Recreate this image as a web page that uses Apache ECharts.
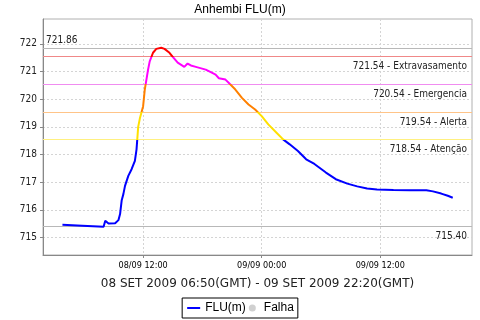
<!DOCTYPE html>
<html>
<head>
<meta charset="utf-8">
<script src="https://cdn.jsdelivr.net/npm/echarts@6/dist/echarts.min.js"></script>
<style>
html,body{margin:0;padding:0;background:#fff;}
#chart{width:480px;height:320px;}
</style>
</head>
<body>
<div id="chart"></div>
<script>
// leituras (hora local)
var times = [
  '2009-09-08 03:50','2009-09-08 04:00','2009-09-08 05:50','2009-09-08 06:00','2009-09-08 08:00',
  '2009-09-08 08:10','2009-09-08 08:30','2009-09-08 09:10','2009-09-08 09:30','2009-09-08 09:40',
  '2009-09-08 09:50','2009-09-08 10:00','2009-09-08 10:10','2009-09-08 10:30','2009-09-08 10:50',
  '2009-09-08 11:10','2009-09-08 11:20','2009-09-08 11:30','2009-09-08 11:40','2009-09-08 12:00',
  '2009-09-08 12:10','2009-09-08 12:30','2009-09-08 12:40','2009-09-08 13:00','2009-09-08 13:20',
  '2009-09-08 13:50','2009-09-08 14:10','2009-09-08 14:40','2009-09-08 15:00','2009-09-08 15:30',
  '2009-09-08 16:10','2009-09-08 16:30','2009-09-08 16:50','2009-09-08 17:20','2009-09-08 18:20',
  '2009-09-08 19:00','2009-09-08 19:20','2009-09-08 19:40','2009-09-08 19:50','2009-09-08 20:20',
  '2009-09-08 20:50','2009-09-08 21:20','2009-09-08 22:00','2009-09-08 22:40','2009-09-08 23:20',
  '2009-09-09 00:00','2009-09-09 00:40','2009-09-09 01:30','2009-09-09 02:10','2009-09-09 02:50',
  '2009-09-09 03:40','2009-09-09 04:30','2009-09-09 05:20','2009-09-09 06:30','2009-09-09 07:30',
  '2009-09-09 08:40','2009-09-09 09:40','2009-09-09 10:40','2009-09-09 11:40','2009-09-09 13:20',
  '2009-09-09 15:00','2009-09-09 16:40','2009-09-09 17:20','2009-09-09 18:10','2009-09-09 18:50',
  '2009-09-09 19:20'
];
var flu = [
  715.46,715.43,715.43,715.39,715.39,
  715.61,715.51,715.52,715.63,715.85,
  716.35,716.57,716.87,717.23,717.47,
  717.77,718.19,719.00,719.30,719.75,
  720.35,721.07,721.37,721.68,721.82,
  721.86,721.82,721.68,721.53,721.32,
  721.17,721.29,721.22,721.17,721.07,
  720.95,720.89,720.76,720.74,720.71,
  720.53,720.35,720.05,719.81,719.63,
  719.39,719.09,718.79,718.55,718.37,
  718.13,717.83,717.66,717.35,717.11,
  716.95,716.85,716.77,716.74,716.72,
  716.71,716.71,716.67,716.59,716.51,
  716.44
];
var limites = [721.54, 720.54, 719.54, 718.54];
var limiteNomes = ['Extravasamento', 'Emergencia', 'Alerta', 'Atenção'];
var limiteCores = ['#f08888', '#f08cf0', '#ffc488', '#fff080'];
var faixaCores = ['#0000ff', '#ffe000', '#ff8000', '#ff00ff', '#ff0000'];
var maximo = 721.86, minimo = 715.40;
var yTicks = [715, 716, 717, 718, 719, 720, 721, 722];
var xTicks = ['2009-09-08 12:00', '2009-09-09 00:00', '2009-09-09 12:00'];
var xMin = '2009-09-08 01:52', xMax = '2009-09-09 21:17';

// horas desde 08/09 00:00
var T0 = Date.UTC(2009, 8, 8, 0, 0);
function hrs(s) {
    var p = s.split(/[- :]/).map(Number);
    return (Date.UTC(p[0], p[1] - 1, p[2], p[3], p[4]) - T0) / 3600000;
}
function pad(n) { return (n < 10 ? '0' : '') + n; }

var data = times.map(function (t, i) { return [hrs(t), flu[i]]; });

var marks = [{
    yAxis: maximo,
    lineStyle: { color: '#b8b8b8' },
    label: { formatter: maximo.toFixed(2), position: 'insideStartTop', distance: [3, 2] }
}];
limites.forEach(function (v, i) {
    marks.push({
        yAxis: v,
        lineStyle: { color: limiteCores[i] },
        label: { formatter: v.toFixed(2) + ' - ' + limiteNomes[i], position: 'insideEndBottom' }
    });
});
marks.push({
    yAxis: minimo,
    lineStyle: { color: '#b8b8b8' },
    label: { formatter: minimo.toFixed(2), position: 'insideEndBottom' }
});

var myChart = echarts.init(document.getElementById('chart'));
var option = {
    animation: false,
    backgroundColor: '#fff',
    title: {
        text: 'Anhembi FLU(m)',
        left: 'center',
        top: 1,
        padding: [2, 0, 0, 0],
        textStyle: { fontFamily: 'Liberation Sans', fontSize: 12, lineHeight: 14, fontWeight: 'normal', color: '#000' }
    },
    grid: {
        left: 43, right: 8, top: 19, bottom: 65,
        show: true, borderColor: '#b0b0b0', borderWidth: 1
    },
    legend: {
        bottom: 2,
        left: 'center',
        borderColor: '#000',
        borderWidth: 1,
        padding: [4, 4, 4, 4],
        itemGap: 3,
        itemWidth: 13,
        itemHeight: 7,
        textStyle: { fontFamily: 'Liberation Sans', fontSize: 12, color: '#000' },
        data: [
            { name: 'FLU(m)', itemStyle: { color: '#0000ff', opacity: 0 }, lineStyle: { color: '#0000ff', width: 2 } },
            { name: 'Falha', icon: 'circle', itemStyle: { color: '#c4c4c4' } }
        ]
    },
    visualMap: {
        show: false,
        type: 'piecewise',
        dimension: 1,
        seriesIndex: 0,
        pieces: [
            { lt: limites[3], color: faixaCores[0] },
            { gte: limites[3], lt: limites[2], color: faixaCores[1] },
            { gte: limites[2], lt: limites[1], color: faixaCores[2] },
            { gte: limites[1], lt: limites[0], color: faixaCores[3] },
            { gte: limites[0], color: faixaCores[4] }
        ]
    },
    xAxis: {
        type: 'value',
        min: hrs(xMin),
        max: hrs(xMax),
        name: '08 SET 2009 06:50(GMT) - 09 SET 2009 22:20(GMT)',
        nameLocation: 'middle',
        nameGap: 23,
        nameTextStyle: { fontFamily: 'DejaVu Sans', fontSize: 12, color: '#222' },
        axisLine: { lineStyle: { color: '#888' } },
        axisTick: { length: 3, lineStyle: { color: '#888' }, customValues: xTicks.map(hrs) },
        axisLabel: {
            customValues: xTicks.map(hrs),
            fontFamily: 'DejaVu Sans Condensed', fontSize: 9, color: '#000', margin: 6,
            formatter: function (v) {
                var d = new Date(T0 + v * 3600000);
                return pad(d.getUTCDate()) + '/' + pad(d.getUTCMonth() + 1) + ' ' +
                    pad(d.getUTCHours()) + ':' + pad(d.getUTCMinutes());
            }
        },
        splitLine: { show: true, lineStyle: { color: '#d4d4d4', type: [2, 2] } }
    },
    yAxis: {
        type: 'value',
        min: 714.37,
        max: 722.9,
        axisLine: { show: true, lineStyle: { color: '#888' } },
        axisTick: { show: true, length: 3, lineStyle: { color: '#888' }, customValues: yTicks },
        axisLabel: {
            customValues: yTicks,
            fontFamily: 'DejaVu Sans Condensed', fontSize: 10, color: '#222', margin: 6
        },
        splitLine: { show: true, lineStyle: { color: '#d4d4d4', type: [2, 2] } }
    },
    series: [{
        name: 'FLU(m)',
        type: 'line',
        symbol: 'none',
        z: 3,
        lineStyle: { width: 2 },
        data: data,
        markLine: {
            silent: true,
            z: 1,
            symbol: ['none', 'none'],
            lineStyle: { type: 'solid', width: 1 },
            label: { fontFamily: 'DejaVu Sans Condensed', fontSize: 10, color: '#222' },
            data: marks
        }
    }, {
        name: 'Falha',
        type: 'scatter',
        itemStyle: { color: '#c4c4c4' },
        data: []
    }]
};
myChart.setOption(option);
</script>
</body>
</html>
